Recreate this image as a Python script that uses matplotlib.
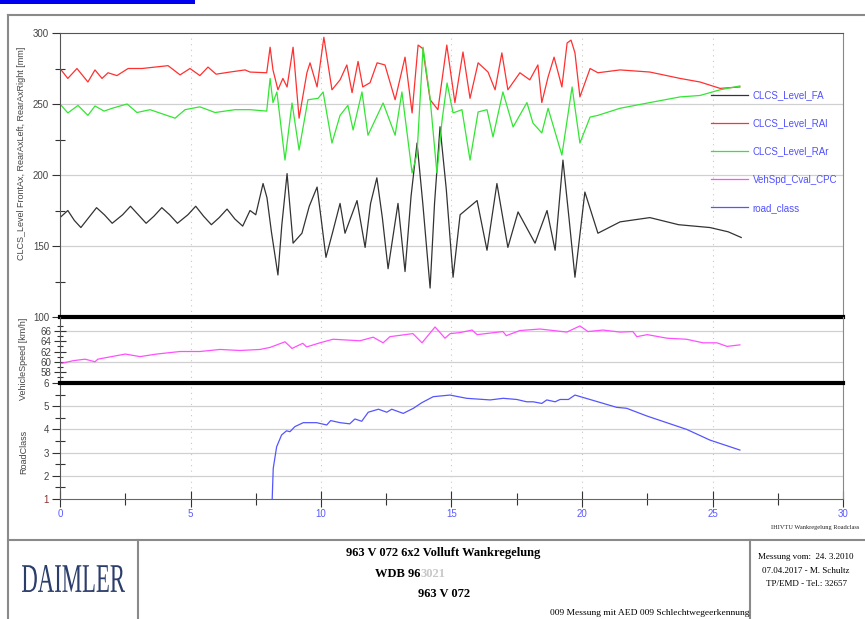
import numpy as np
import matplotlib
matplotlib.use('Agg')
import matplotlib.pyplot as plt
from matplotlib.textpath import TextPath
from matplotlib.patches import PathPatch, Rectangle
from matplotlib.font_manager import FontProperties
from matplotlib.transforms import Affine2D
from matplotlib.ticker import FixedLocator

plt.rcParams['font.family'] = ['Liberation Sans', 'DejaVu Sans']

#signals (time in s)

t_fa = [0, 0.3, 0.55, 0.8, 1.1, 1.4, 1.7, 2.0, 2.4, 2.7, 3.0, 3.3, 3.6, 3.9, 4.2, 4.5,
        4.9, 5.2, 5.5, 5.8, 6.1, 6.4, 6.7, 7.0, 7.28, 7.5, 7.78, 7.93, 8.1, 8.35, 8.5, 8.7,
        8.93, 9.27, 9.55, 9.85, 10.0, 10.19, 10.45, 10.73, 10.92, 11.38, 11.69, 11.9, 12.14,
        12.35, 12.57, 12.95, 13.22, 13.45, 13.68, 13.9, 14.18, 14.35, 14.56, 14.8, 15.06,
        15.33, 15.98, 16.36, 16.74, 17.16, 17.55, 18.2, 18.66, 18.97, 19.27, 19.5, 19.73,
        20.11, 20.61, 21.46, 22.6, 23.7, 24.9, 25.6, 26.1]
fa = [170, 175, 168, 163, 170, 177, 172, 166, 172, 178, 172, 166, 171, 177, 172, 166,
      172, 178, 171, 165, 170, 176, 169, 164, 175, 172, 194, 184, 160, 129.6, 165, 201,
      152, 159, 178, 191.5, 170, 142, 160, 180, 159, 182, 149, 180, 198,
      170, 134, 180, 132, 185, 222.5, 180, 120.4, 180, 234, 190, 128,
      172, 182, 147, 194, 149, 174, 152, 175, 147, 210.5, 170, 128,
      188, 159, 167, 170, 165, 163, 160, 156]

t_ral = [0, 0.3, 0.65, 1.07, 1.34, 1.61, 1.84, 2.18, 2.61, 3.14, 4.14, 4.6, 4.98, 5.36,
         5.67, 5.98, 6.51, 7.09, 7.28, 7.92, 8.05, 8.16, 8.35, 8.54, 8.7, 8.93, 9.16, 9.46,
         9.58, 9.85, 10.11, 10.42, 10.73, 10.99, 11.19, 11.42, 11.6, 11.88, 12.15, 12.45,
         12.84, 13.22, 13.49, 13.72, 13.9, 14.18, 14.48, 14.82, 15.13, 15.44, 15.71, 16.02,
         16.4, 16.67, 16.93, 17.16, 17.62, 18.0, 18.31, 18.46, 18.7, 18.93, 19.23, 19.43,
         19.58, 19.73, 19.92, 20.31, 20.61, 21.46, 22.6, 23.76, 24.52, 25.29, 26.05]
ral = [275, 268, 275, 265.5, 274, 268, 272, 270, 275, 275, 277, 270.5, 275, 270,
       276, 271, 272.5, 274, 272.5, 272, 290, 274, 260, 268, 262, 290, 240, 272,
       279, 262, 297, 260, 267, 277.5, 258, 280, 262, 265, 279, 277.5,
       253, 283, 243.7, 291.5, 289, 253, 246, 291.5, 251, 286.6, 254, 279,
       272.5, 260, 286, 260, 272, 267, 277.5, 251, 269, 283, 262, 293,
       295, 286, 255, 275, 272, 274, 272.5, 268, 265.5, 261, 262]

t_rar = [0, 0.3, 0.69, 1.07, 1.34, 1.69, 2.0, 2.57, 2.95, 3.45, 4.41, 4.79, 5.36, 5.94,
         6.7, 7.28, 7.92, 8.05, 8.16, 8.31, 8.62, 8.89, 9.16, 9.5, 9.89, 10.08, 10.42,
         10.73, 11.03, 11.23, 11.57, 11.8, 12.38, 12.84, 13.1, 13.49, 13.68, 13.91, 14.18,
         14.44, 14.64, 14.83, 15.06, 15.4, 15.71, 16.02, 16.36, 16.59, 16.97, 17.36, 17.89,
         18.12, 18.46, 18.7, 19.23, 19.62, 19.92, 20.31, 20.61, 21.46, 22.6, 23.76, 24.52,
         25.29, 26.05]
rar = [250, 243.7, 249, 242, 248.6, 245, 247, 250, 244, 246, 240, 246, 248, 244,
       246, 246, 245, 268, 251, 258.5, 210.5, 250.7, 217.6, 253, 254, 258.5, 222.5,
       242, 249, 231.7, 258.5, 228, 250.7, 228, 258.5, 201.4, 215, 290, 254,
       201.4, 238.7, 264.8, 243.7, 246, 210.5, 244.4, 246, 226.8, 258.5, 233.8, 251,
       236.6, 229.6, 247, 214, 262, 222.5, 240.8, 242, 247, 251, 255, 256,
       260, 262.7]

t_spd = [0.07, 0.5, 0.96, 1.34, 1.45, 2.5, 3.07, 3.7, 4.6, 5.36, 6.13, 6.9, 7.66, 8.05,
         8.62, 8.89, 9.3, 9.45, 9.96, 10.46, 11.49, 12.0, 12.38, 12.64, 13.52, 13.87,
         14.37, 14.75, 14.95, 15.33, 15.79, 15.98, 16.97, 17.1, 17.62, 18.39, 19.42,
         19.92, 20.23, 20.8, 21.46, 21.95, 22.1, 22.5, 23.26, 24.0, 24.64, 25.17, 25.56,
         26.05]
spd = [59.7, 60.2, 60.5, 60.0, 60.5, 61.5, 61.0, 61.5, 62.0, 62.0, 62.4, 62.2, 62.4, 62.8,
       63.9, 62.6, 63.6, 62.9, 63.7, 64.4, 64.1, 64.8, 63.7, 64.9, 65.5, 63.7,
       66.8, 64.6, 65.5, 65.7, 66.2, 65.3, 65.9, 65.1, 66.1, 66.4, 65.8,
       67.0, 65.9, 66.2, 65.8, 65.9, 64.9, 65.3, 64.6, 64.4, 63.7, 63.7, 63.0,
       63.3]

t_rc = [8.13, 8.17, 8.3, 8.49, 8.68, 8.81, 9.0, 9.32, 9.83, 10.22, 10.37, 10.73, 11.1,
        11.3, 11.56, 11.81, 12.2, 12.52, 12.71, 13.15, 13.54, 13.86, 14.3, 14.94, 15.58,
        16.48, 16.98, 17.5, 17.88, 18.13, 18.46, 18.65, 18.97, 19.16, 19.48, 19.73,
        21.33, 21.71, 22.48, 24.01, 24.9, 26.05]
rc = [1.0, 2.32, 3.25, 3.76, 3.94, 3.9, 4.12, 4.29, 4.29, 4.19, 4.38, 4.29, 4.24,
      4.45, 4.35, 4.74, 4.87, 4.74, 4.87, 4.69, 4.91, 5.15, 5.41, 5.48, 5.34,
      5.27, 5.34, 5.29, 5.19, 5.19, 5.12, 5.27, 5.19, 5.29, 5.29, 5.48,
      4.95, 4.91, 4.58, 4.0, 3.54, 3.11]

labels = ['CLCS_Level_FA', 'CLCS_Level_RAl', 'CLCS_Level_RAr', 'VehSpd_Cval_CPC', 'road_class']

W, H = 865, 619
fig = plt.figure(figsize=(W/100, H/100), dpi=100)

#background axis in pixel units for the frame and the footer
bg = fig.add_axes([0, 0, 1, 1])
bg.set_xlim(0, W)
bg.set_ylim(H, 0)
bg.axis('off')

def px_axes(x0, y0, x1, y1):
    return fig.add_axes([x0/W, 1-y1/H, (x1-x0)/W, (y1-y0)/H])

ax1 = px_axes(60, 33, 843, 317)
ax2 = px_axes(60, 317, 843, 383)
ax3 = px_axes(60, 383, 843, 499)

gray = '#555555'
for ax in (ax1, ax2, ax3):
    ax.set_facecolor('none')
    ax.set_xlim(0, 30)
    ax.xaxis.set_major_locator(FixedLocator([0, 5, 10, 15, 20, 25, 30]))
    ax.xaxis.set_minor_locator(FixedLocator([2.5, 7.5, 12.5, 17.5, 22.5, 27.5]))
    for v in [5, 10, 15, 20, 25]:
        ax.axvline(v, color='#c8c8c8', lw=0.8, ls=(0, (1, 4)), zorder=0)
    ax.spines['left'].set_color(gray)
    ax.spines['right'].set_color('#888888')
    ax.tick_params(axis='y', which='both', colors='#333333', labelcolor='#444444',
                   labelsize=7, width=0.8, pad=2)
    ax.tick_params(axis='y', which='major', direction='out', length=5.8)
    ax.tick_params(axis='y', which='minor', direction='inout', length=7)

for ax in (ax1, ax2):
    ax.tick_params(axis='x', which='both', bottom=False, labelbottom=False)

#top panel - levels
ax1.set_ylim(100, 300)
ax1.yaxis.set_major_locator(FixedLocator([100, 150, 200, 250, 300]))
ax1.yaxis.set_minor_locator(FixedLocator([125, 175, 225, 275]))
for v in [150, 200, 250]:
    ax1.axhline(v, color='#d0d0d0', lw=0.9, zorder=0)
ax1.spines['top'].set_color(gray)
ax1.spines['bottom'].set_color('black')
ax1.spines['bottom'].set_linewidth(3)
l_fa, = ax1.plot(t_fa, fa, color='#333333', lw=0.9)
l_ral, = ax1.plot(t_ral, ral, color='#ff3030', lw=0.9)
l_rar, = ax1.plot(t_rar, rar, color='#33e633', lw=0.9)

#middle panel - speed
ax2.set_ylim(55.84, 68.75)
ax2.yaxis.set_major_locator(FixedLocator([58, 60, 62, 64, 66]))
ax2.yaxis.set_minor_locator(FixedLocator([57, 59, 61, 63, 65, 67]))
ax2.tick_params(axis='y', which='major', direction='inout', length=8)
ax2.tick_params(axis='y', which='minor', direction='inout', length=5)
for v in [60, 66]:
    ax2.axhline(v, color='#d0d0d0', lw=0.9, zorder=0)
ax2.spines['top'].set_visible(False)
ax2.spines['bottom'].set_visible(False)
l_spd, = ax2.plot(t_spd, spd, color='#ff50ff', lw=0.9)

#bottom panel - road class
ax3.set_ylim(1, 6)
ax3.yaxis.set_major_locator(FixedLocator([1, 2, 3, 4, 5, 6]))
ax3.yaxis.set_minor_locator(FixedLocator([1.5, 2.5, 3.5, 4.5, 5.5]))
for v in [2, 3, 4, 5]:
    ax3.axhline(v, color='#d0d0d0', lw=0.9, zorder=0)
ax3.spines['top'].set_color('black')
ax3.spines['top'].set_linewidth(3)
ax3.spines['bottom'].set_color('#666666')
ax3.tick_params(axis='x', which='both', colors='#333333', labelcolor='#5a5aff',
                labelsize=7, direction='inout', width=0.8, pad=1)
ax3.tick_params(axis='x', which='major', length=12)
ax3.tick_params(axis='x', which='minor', length=8)
ax3.get_yticklabels()[0].set_color('#8b3030')
l_rc, = ax3.plot(t_rc, rc, color='#5555ff', lw=0.9)

ax1.legend([l_fa, l_ral, l_rar, l_spd, l_rc], labels, loc='upper left',
           bbox_to_anchor=(711/W, 1-90/H), bbox_transform=fig.transFigure,
           frameon=False, fontsize=7, labelcolor='#5050ff', handlelength=3.8,
           handletextpad=0.5, labelspacing=1.87, borderpad=0, borderaxespad=0)

#y labels
ylab = dict(rotation=90, ha='center', va='center', fontsize=6.5, color='#444444')
bg.text(22, 153, 'CLCS_Level FrontAx, RearAxLeft, RearAxRight [mm]', **ylab)
bg.text(24, 359, 'VehicleSpeed [km/h]', **ylab)
bg.text(24, 452, 'RoadClass', **ylab)

#frame, title bar and footer
bg.add_patch(Rectangle((0, 0), 195, 3.5, color='#0000ee', lw=0))
fl = dict(color='#8a8a8a', lw=1.5)
bg.plot([8, 8], [15, H], **fl)
bg.plot([8, W], [15, 15], **fl)
bg.plot([8, W], [540, 540], **fl)
bg.plot([138, 138], [540, H], **fl)
bg.plot([750, 750], [540, H], **fl)

serif = ['Liberation Serif', 'DejaVu Serif']
bg.text(771, 527, 'IHIVTU Wankregelung Roadclass', fontsize=4.6, family=serif,
        va='center', ha='left', color='#222222')
bg.text(443, 553, '963 V 072 6x2 Volluft Wankregelung', fontsize=9, family=serif,
        weight='bold', ha='center', va='center')
t_wdb = bg.text(375, 574, 'WDB 96', fontsize=9, family=serif, weight='bold',
                ha='left', va='center')
bg.annotate('3021', xy=(1, 0.5), xycoords=t_wdb, va='center', ha='left', fontsize=9,
            family=serif, weight='bold', color='#c8c8c8')
bg.text(444, 594, '963 V 072', fontsize=9, family=serif, weight='bold',
        ha='center', va='center')
bg.text(749, 613, '009 Messung mit AED 009 Schlechtwegeerkennung', fontsize=6.8,
        family=serif, ha='right', va='center')
for y, s in zip([557, 571, 584], ['Messung vom:  24. 3.2010', '07.04.2017 - M. Schultz',
                                  'TP/EMD - Tel.: 32657']):
    bg.text(806, y, s, fontsize=6.5, family=serif, ha='center', va='center')

#DAIMLER logo squeezed into its box
tp = TextPath((0, 0), 'DAIMLER', size=1, prop=FontProperties(family='Liberation Serif'))
bb = tp.get_extents()
tr = Affine2D().translate(-bb.x0, -bb.y0).scale(103/bb.width, 27/bb.height).translate(22, H-592)
fig.add_artist(PathPatch(tp, transform=tr, color='#2b3d6b', lw=0))

fig.savefig('out.png', dpi=100)
